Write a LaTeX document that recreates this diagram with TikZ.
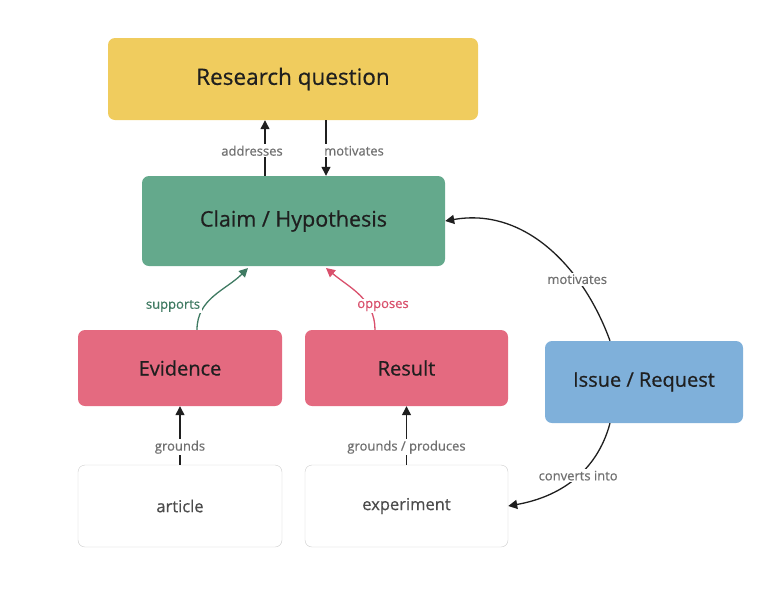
\documentclass[tikz,border=0pt]{standalone}
\usepackage{fontspec}
\setmainfont{Open Sans}
\newfontfamily\semibold{Open Sans}[FakeBold=0.6]
\usetikzlibrary{arrows.meta, positioning, calc}
\definecolor{qyellow}{HTML}{F0CC5E}
\definecolor{cgreen}{HTML}{64A98C}
\definecolor{epink}{HTML}{E46A80}
\definecolor{iblue}{HTML}{7FB0DA}
\definecolor{lgray}{HTML}{707070}
\definecolor{sgreen}{HTML}{3F7A62}
\definecolor{opink}{HTML}{D9506C}
\begin{document}
\begin{tikzpicture}[x=1pt, y=-1pt,
	box/.style = {rectangle, rounded corners=7pt, align=center, text=black!88, font=\semibold\fontsize{20}{24}\selectfont},
	plain/.style = {box, draw=black!20, fill=white, font=\semibold\fontsize{16.5}{20}\selectfont, text=black!70},
	lbl/.style = {fill=white, inner sep=1.5pt, text=lgray, font=\semibold\fontsize{13}{15}\selectfont},
	arr/.style = {-{Triangle[length=9pt, width=9pt]}, line width=1.3pt, black!88}
]
	\useasboundingbox (0,0) rectangle (784,595);

	\node[box, fill=qyellow, minimum width=370pt, minimum height=82pt, font=\semibold\fontsize{22.5}{26}\selectfont] (question) at (293,79) {Research question};
	\node[box, fill=cgreen, minimum width=303pt, minimum height=90pt, font=\semibold\fontsize{21.5}{26}\selectfont] (claim) at (293.5,221) {Claim / Hypothesis};
	\node[box, fill=epink, minimum width=204pt, minimum height=76pt] (evidence) at (180,368) {Evidence};
	\node[box, fill=epink, minimum width=203pt, minimum height=76pt] (result) at (406.5,368) {Result};
	\node[box, fill=iblue, minimum width=198pt, minimum height=82pt] (issue) at (644,382) {Issue / Request};
	\node[plain, minimum width=204pt, minimum height=82pt] (article) at (180,506) {article};
	\node[plain, minimum width=203pt, minimum height=82pt] (experiment) at (406.5,506) {experiment};

	% vertical links
	\draw[arr] (claim.north -| 265,0) -- (question.south -| 265,0) node[lbl, pos=0.45, xshift=-13pt] {addresses};
	\draw[arr] (question.south -| 326,0) -- (claim.north -| 326,0) node[lbl, pos=0.55, xshift=28pt] {motivates};
	\draw[arr] (article) -- (evidence) node[lbl, pos=0.3] {grounds};
	\draw[arr] (experiment) -- (result) node[lbl, pos=0.3] {grounds / produces};

	% curved links
	\draw[arr, sgreen] (evidence.north -| 197,0) to[out=90, in=-135] (248,268) ;
	\node[lbl, text=sgreen] (sup) at (173,306) {supports};
	\draw[arr, opink] (result.north -| 375,0) to[out=90, in=-40] (326,268);
	\node[lbl, text=opink] (opp) at (383,306) {opposes};
	\draw[arr] (issue.north -| 610,0) to[out=110, in=10] node[lbl, pos=0.3] {motivates} (claim.east);
	\draw[arr] (issue.south -| 610,0) to[out=-105, in=10] node[lbl, pos=0.45] {converts into} (experiment.east);
\end{tikzpicture}
\end{document}
